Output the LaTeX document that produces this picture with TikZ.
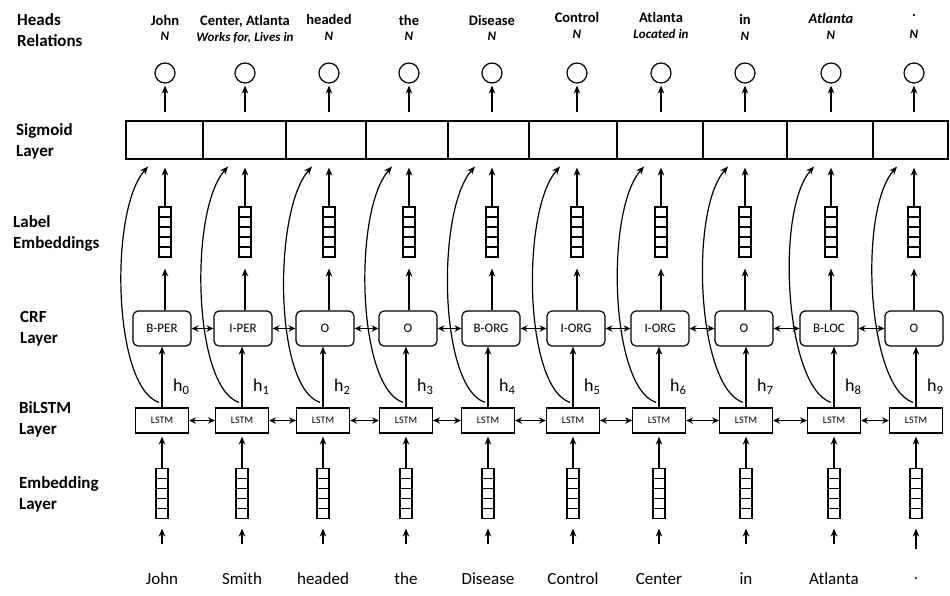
\documentclass[tikz,border=0pt]{standalone}
\usepackage{fontspec}
\setmainfont{Carlito}
\usetikzlibrary{arrows.meta,calc}
\tikzset{
  arr/.style={-{Stealth[length=8pt,width=6.5pt,inset=2.5pt]}, line width=1.2pt},
  darr/.style={{Stealth[length=7pt,width=6.5pt,inset=2.5pt]}-{Stealth[length=7pt,width=6.5pt,inset=2.5pt]}, line width=1.2pt},
  sigcell/.style={draw, line width=1.2pt, minimum height=38pt, inner sep=0pt},
  crfbox/.style={draw, line width=1.2pt, rounded corners=5pt, minimum width=58pt, minimum height=35pt, inner sep=0pt, font=\fontsize{13}{15}\selectfont},
  lstmbox/.style={draw, line width=1.2pt, minimum width=53pt, minimum height=25pt, inner sep=0pt, font=\fontsize{10}{12}\selectfont},
  outcirc/.style={draw, circle, line width=1.2pt, minimum size=20pt, inner sep=0pt},
  vecstack/.style={draw, line width=1.1pt, minimum width=12pt, minimum height=50pt, inner sep=0pt,
    path picture={\foreach \k in {1,2,3,4}{\draw[line width=1.1pt] ($(path picture bounding box.north west)!\k/5!(path picture bounding box.south west)$) -- ($(path picture bounding box.north east)!\k/5!(path picture bounding box.south east)$);}}},
  layerlbl/.style={anchor=west, align=left, inner sep=0pt, font=\fontsize{17}{21}\selectfont\bfseries},
  headlbl/.style={inner sep=0pt, font=\fontsize{14.5}{16}\selectfont\bfseries},
  rellbl/.style={inner sep=0pt, font=\fontsize{13}{14}\selectfont\bfseries\itshape},
  wordlbl/.style={inner sep=0pt, font=\fontsize{17}{19}\selectfont},
  hlbl/.style={anchor=west, inner sep=0pt, font=\fontsize{18}{20}\selectfont},
}
\begin{document}
\begin{tikzpicture}[x=1pt,y=-1pt]
\useasboundingbox (0,0) rectangle (950,595);

% layer labels
\node[layerlbl] (lblheads) at (17,30.5) {Heads\\Relations};
\node[layerlbl] (lblsig) at (16,141) {Sigmoid\\Layer};
\node[layerlbl] (lbllab) at (13,233) {Label\\Embeddings};
\node[layerlbl] (lblcrf) at (20,329) {CRF\\Layer};
\node[layerlbl] (lbllstm) at (19,419) {BiLSTM\\Layer};
\node[layerlbl] (lblemb) at (19,494.5) {Embedding\\Layer};

% sigmoid cells
\foreach \i/\cx/\w in {0/164.5/77, 1/244.5/83, 2/326/80, 3/407/82, 4/488.5/81, 5/573/88, 6/660/86, 7/745/84, 8/830/86, 9/910.5/75}
  \node[sigcell, minimum width=\w pt] (s\i) at (\cx,140) {};

% columns
\foreach \i/\L/\U/\C/\word/\head/\rel/\hy/\ry/\tag in {
  0/162/165/162/John/John/N/20/36/B-PER,
  1/242/245/243/Smith/{Center, Atlanta}/{Works for, Lives in}/21/38/I-PER,
  2/323/329/325/headed/headed/N/19/36/O,
  3/406/409/408/the/the/N/20/36/O,
  4/488/492/491/Disease/Disease/N/20/36/B-ORG,
  5/573/577/576/Control/Control/N/17/34/I-ORG,
  6/659/661/660/Center/Atlanta/{Located in}/17/34/I-ORG,
  7/746/745/744/in/in/N/19/36/O,
  8/834/831/829/Atlanta/\textit{Atlanta}/N/18/35/B-LOC,
  9/916/914/914/././N/16/34/O}{
  \node[headlbl] (hd\i) at (\U,\hy) {\head};
  \node[rellbl] (rl\i) at (\U,\ry) {\rel};
  \node[outcirc] (c\i) at (\U,73) {};
  \node[vecstack] (ls\i) at (\U,232) {};
  \node[crfbox] (cr\i) at (\C,328.5) {\tag};
  \node[lstmbox] (l\i) at (\L,420.5) {LSTM};
  \node[vecstack] (e\i) at (\L,493.5) {};
  \node[wordlbl] (w\i) at (\L,579) {\word};
  \node[hlbl] (h\i) at (\L+11,387) {h\textsubscript{\i}};
  % connectors
  \draw[arr, shorten <=29pt, shorten >=9.5pt] (w\i) -- (e\i.south);
  \draw[arr, shorten >=3pt] (e\i.north) -- (l\i.south);
  \draw[arr] (l\i.north) -- (l\i.north |- cr\i.south);
  \draw[arr, shorten >=11pt] (cr\i.north -| ls\i.south) -- (ls\i.south);
  \draw[arr, shorten >=8pt] (ls\i.north) -- (ls\i.north |- s\i.south);
  \draw[arr, shorten <=8pt, shorten >=2pt] (s\i.north -| c\i.south) -- (c\i.south);
  \draw[arr] ($(l\i.north)+(-3,-5)$) .. controls +(-46,-15) and +(-39,44) .. ($(s\i.south -| ls\i.north)+(-17,7)$);
}

\foreach \i/\j in {0/1,1/2,2/3,3/4,4/5,5/6,6/7,7/8,8/9}{
  \draw[darr] (cr\i.east) -- (cr\j.west);
  \draw[darr] (l\i.east) -- (l\j.west);
}
\end{tikzpicture}
\end{document}
